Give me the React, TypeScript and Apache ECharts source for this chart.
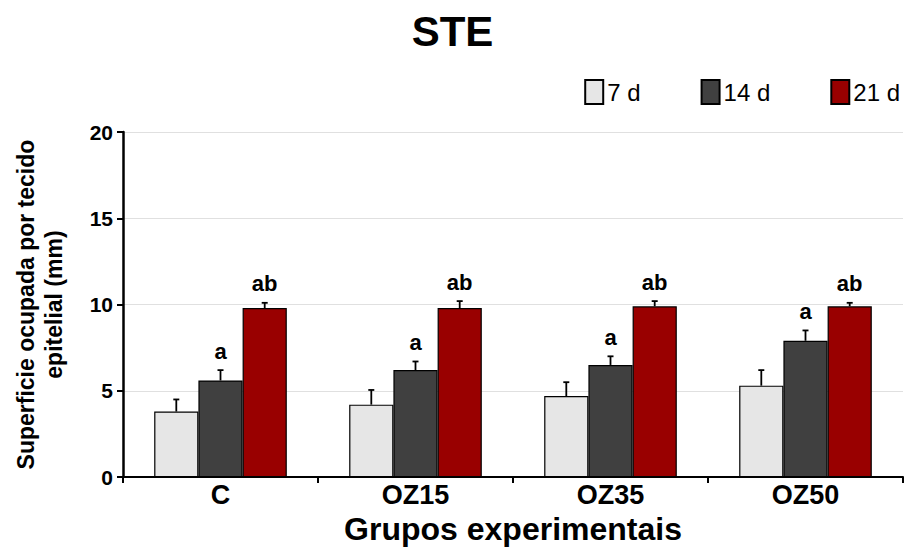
import React, { useEffect, useRef } from "react";
import * as echarts from "echarts";

const categories = ["C", "OZ15", "OZ35", "OZ50"];
const seriesNames = ["7 d", "14 d", "21 d"];
const values7 = [3.8, 4.2, 4.7, 5.3];
const values14 = [5.6, 6.2, 6.5, 7.9];
const values21 = [9.8, 9.8, 9.9, 9.9];
const err7 = [0.7, 0.85, 0.8, 0.9];
const err14 = [0.6, 0.5, 0.5, 0.6];
const err21 = [0.3, 0.4, 0.3, 0.2];
const sig7 = ["", "", "", ""];
const sig14 = ["a", "a", "a", "a"];
const sig21 = ["ab", "ab", "ab", "ab"];
const colors = ["#e6e6e6", "#404040", "#990000"];

const FONT = "Liberation Sans, Arial, sans-serif";
const GAP = 0.32;

export default function App() {
  const ref = useRef<HTMLDivElement>(null);
  useEffect(() => {
    if (!ref.current) return;
    document.body.style.margin = "0";
    const chart = echarts.init(ref.current, null, { renderer: "svg" });
    const vals = [values7, values14, values21];
    const errs = [err7, err14, err21];
    const sigs = [sig7, sig14, sig21];
    const errData: any[] = [];
    vals.forEach((arr, s) =>
      arr.forEach((v, i) => errData.push([i, v, errs[s][i], s, sigs[s][i]]))
    );
    chart.setOption({
      animation: false,
      title: {
        text: "STE",
        left: "center",
        top: 5,
        textStyle: { fontFamily: FONT, fontSize: 42, fontWeight: "bold", color: "#000" },
      },
      legend: {
        data: seriesNames,
        right: 0,
        top: 74,
        itemWidth: 18,
        itemHeight: 24,
        itemGap: 60,
        icon: "rect",
        textStyle: { fontFamily: FONT, fontSize: 24, color: "#000", padding: [0, 0, 0, -1] },
      },
      grid: { left: 123, right: 2, top: 132, bottom: 70 },
      xAxis: {
        type: "category",
        data: categories,
        name: "Grupos experimentais",
        nameLocation: "middle",
        nameGap: 35,
        nameTextStyle: { fontFamily: FONT, fontSize: 32, fontWeight: "bold", color: "#000" },
        axisLine: { lineStyle: { color: "#000", width: 2 } },
        axisTick: { show: true, length: 6, lineStyle: { color: "#000", width: 2 } },
        axisLabel: { fontFamily: FONT, fontSize: 27, fontWeight: "bold", color: "#000", margin: 4 },
      },
      yAxis: {
        type: "value",
        min: 0,
        max: 20,
        interval: 5,
        name: "Superficie ocupada por tecido\nepitelial (mm)",
        nameLocation: "middle",
        nameGap: 55,
        nameTextStyle: { fontFamily: FONT, fontSize: 23, fontWeight: "bold", color: "#000", lineHeight: 28 },
        axisLine: { show: true, lineStyle: { color: "#000", width: 2.5 } },
        axisTick: { show: true, length: 6, lineStyle: { color: "#000", width: 2 } },
        axisLabel: { fontFamily: FONT, fontSize: 21, fontWeight: "bold", color: "#000", margin: 10 },
        splitLine: { lineStyle: { color: "#e0e0e0", width: 1 } },
      },
      series: [
        ...vals.map((arr, s) => ({
          name: seriesNames[s],
          type: "bar",
          data: arr,
          barGap: "0%",
          barCategoryGap: GAP * 100 + "%",
          itemStyle: { color: colors[s], borderColor: "#000", borderWidth: 1.2 },
          z: 2,
        })),
        {
          type: "custom",
          name: "err",
          data: errData,
          z: 5,
          renderItem: (params: any, api: any) => {
            const cat = api.value(0);
            const v = api.value(1);
            const e = api.value(2);
            const s = api.value(3);
            const sig = errData[params.dataIndex][4];
            const bandW = api.size([1, 0])[0];
            const barW = (bandW * (1 - GAP)) / 3;
            const base = api.coord([cat, v]);
            const top = api.coord([cat, v + e]);
            const x = base[0] + (s - 1) * barW;
            const children: any[] = [
              {
                type: "line",
                shape: { x1: x, y1: base[1], x2: x, y2: top[1] },
                style: { stroke: "#000", lineWidth: 1.8 },
              },
              {
                type: "line",
                shape: { x1: x - 3, y1: top[1], x2: x + 3, y2: top[1] },
                style: { stroke: "#000", lineWidth: 1.8 },
              },
            ];
            if (sig) {
              children.push({
                type: "text",
                x: x,
                y: top[1] - 8,
                style: {
                  text: sig,
                  fontFamily: FONT,
                  fontSize: 22,
                  fontWeight: "bold",
                  fill: "#000",
                  align: "center",
                  verticalAlign: "bottom",
                },
              });
            }
            return { type: "group", children };
          },
        },
      ],
    });
    return () => chart.dispose();
  }, []);
  return <div ref={ref} style={{ width: 905, height: 550 }} />;
}
